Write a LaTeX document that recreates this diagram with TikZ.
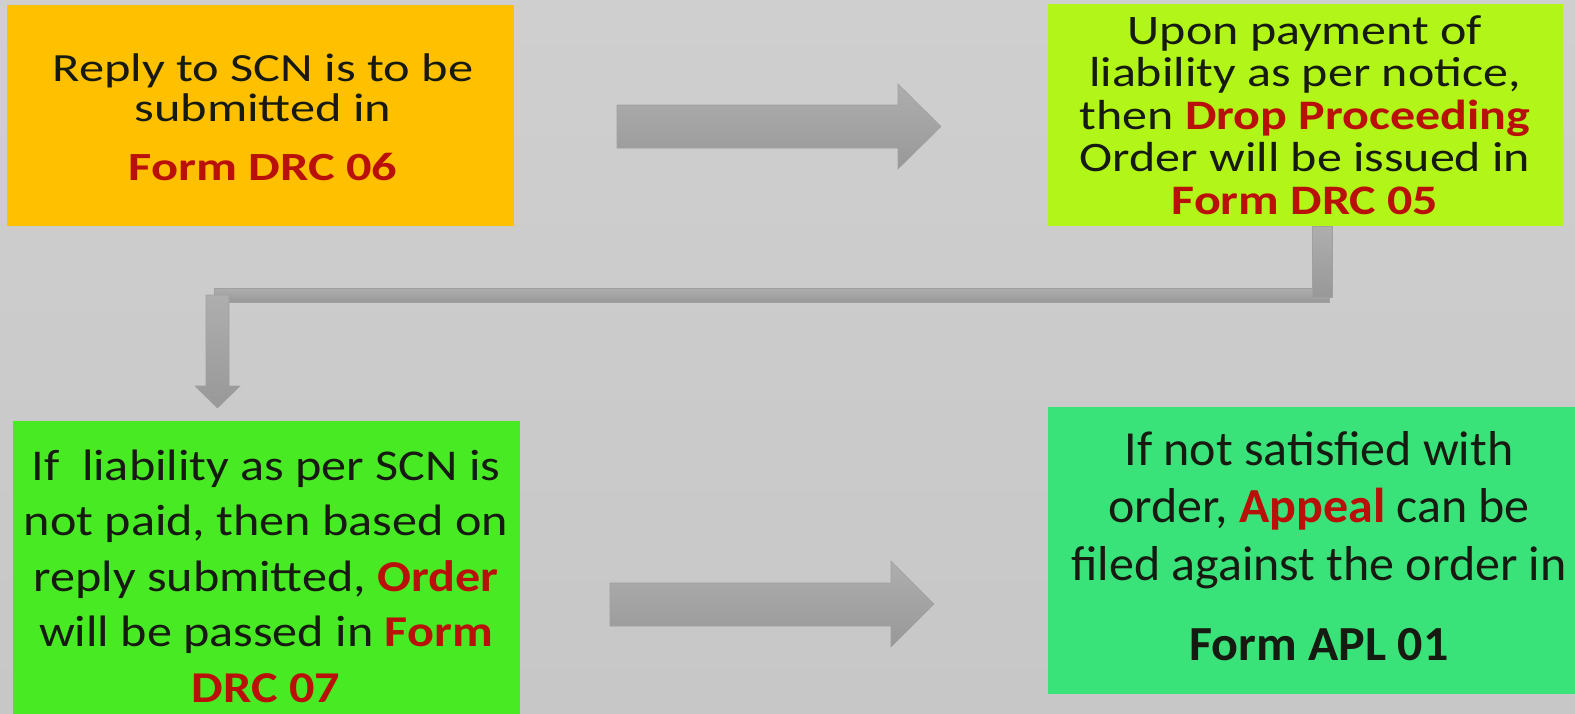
\documentclass[tikz,border=0pt]{standalone}
\usepackage{fontspec}
\setmainfont{Carlito}
\usepackage{graphicx}
\usetikzlibrary{calc}

\definecolor{bgtop}{RGB}{207,207,207}
\definecolor{bgbot}{RGB}{199,199,199}
\definecolor{arrowtop}{RGB}{174,174,174}
\definecolor{arrowbot}{RGB}{152,152,152}
\definecolor{arrowedge}{RGB}{160,160,160}
\definecolor{amber}{RGB}{255,192,0}
\definecolor{lime}{RGB}{178,245,25}
\definecolor{leaf}{RGB}{72,235,35}
\definecolor{mint}{RGB}{58,227,122}
\definecolor{ink}{RGB}{22,26,16}
\definecolor{alert}{RGB}{185,16,10}

\newcommand\redb[1]{\textbf{\textcolor{alert}{#1}}}

\begin{document}
\begin{tikzpicture}[x=1pt,y=-1pt,
  box/.style={rectangle, inner sep=0pt, draw=none},
  txt/.style={inner sep=0pt, anchor=base, text=ink},
  flow/.style={draw=arrowedge, line width=0.6pt, top color=arrowtop, bottom color=arrowbot}]

\useasboundingbox (0,0) rectangle (1575,713);
\clip (0,0) rectangle (1575,713);
\shade[top color=bgtop, bottom color=bgbot] (0,0) rectangle (1575,713);

% step boxes
\node[box, fill=amber, minimum width=507pt, minimum height=221pt] (b1) at (260.5,115.5) {};
\node[box, fill=lime,  minimum width=515pt, minimum height=222pt] (b2) at (1305.5,115) {};
\node[box, fill=leaf,  minimum width=507pt, minimum height=309pt] (b3) at (266.5,575.5) {};
\node[box, fill=mint,  minimum width=542pt, minimum height=287pt] (b4) at (1319,550.5) {};

% box texts
\node[txt] (t1) at (263,81) {\scalebox{1.26}[1]{\fontsize{40}{40}\selectfont
  \begin{tabular}[t]{@{}c@{}}Reply to SCN is to be\\ submitted in\\[19pt] \redb{Form DRC 06}\end{tabular}}};

\node[txt] (t2) at (1305,44) {\scalebox{1.19}[1]{\fontsize{42}{42.5}\selectfont
  \begin{tabular}[t]{@{}c@{}}Upon payment of\\ liability as per notice,\\ then \redb{Drop Proceeding}\\ Order will be issued in\\ \redb{Form DRC 05}\end{tabular}}};

\node[txt] (t3) at (266,480) {\scalebox{1.14}[1]{\fontsize{44}{55.5}\selectfont
  \begin{tabular}[t]{@{}c@{}}If\ \ liability as per SCN is\\ not paid, then based on\\ reply submitted, \redb{Order}\\ will be passed in \redb{Form}\\ \redb{DRC 07}\end{tabular}}};

\node[txt] (t4) at (1319,465) {\scalebox{1.02}[1]{\fontsize{49}{57.5}\selectfont
  \begin{tabular}[t]{@{}c@{}}If not satisfied with\\ order, \redb{Appeal} can be\\ filed against the order in\\[23pt] \textbf{Form APL 01}\end{tabular}}};

% block arrows between the boxes
\path[flow] (617,105) -- (898,105) -- (898,84) -- (941,126.5) -- (898,169) -- (898,148) -- (617,148) -- cycle;
\path[flow] (610,583) -- (891,583) -- (891,561) -- (934,604) -- (891,647) -- (891,626) -- (610,626) -- cycle;

% elbow connector from the top-right box down to the lower-left box
\coordinate (e1) at ($(b2.south)+(13.5,0)$);
\path[flow] (214,288) rectangle (1329,302);
\path[flow] ($(e1)+(-6.5,0)$) rectangle (1332,297);
\path[flow] (206,295) -- (229,295) -- (229,386) -- (240,386) -- (217.5,408) -- (195,386) -- (206,386) -- cycle;

\end{tikzpicture}
\end{document}
